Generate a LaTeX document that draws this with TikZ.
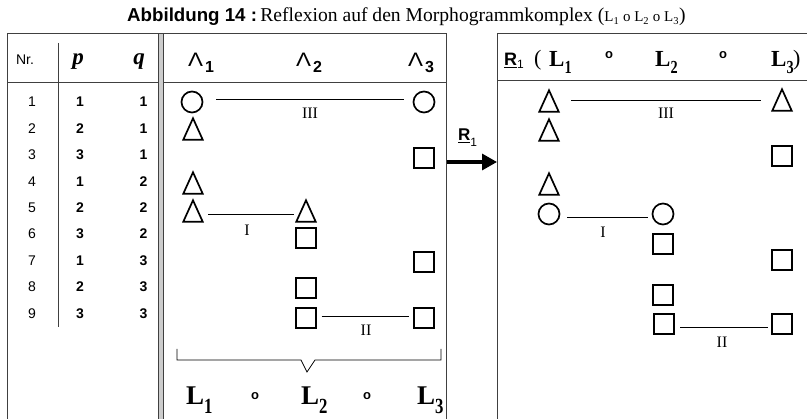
\documentclass[tikz,border=0pt]{standalone}
\usepackage{fontspec}
\usepackage{graphicx}
\setmainfont{Liberation Serif}
\setsansfont{Liberation Sans}
\usetikzlibrary{arrows.meta}
\tikzset{
  frame/.style={draw=black!75, line width=0.9pt},
  shp/.style={draw, line width=1.7pt, inner sep=0pt},
  circ/.style={shp, circle, minimum size=21pt},
  sq/.style={shp, rectangle, minimum size=20pt, line width=2pt},
  tribox/.style={inner sep=0pt, minimum width=19pt, minimum height=21pt},
  triline/.style={line width=1.7pt, line join=miter},
  conn/.style={line width=0.9pt},
  roman/.style={inner sep=0pt, font=\rmfamily\fontsize{16}{16}\selectfont},
  num/.style={inner sep=0pt, font=\sffamily\fontsize{14}{14}\selectfont},
  bnum/.style={inner sep=0pt, font=\sffamily\bfseries\fontsize{14}{14}\selectfont},
  bigL/.style={inner sep=0pt, anchor=base west, font=\rmfamily\bfseries\fontsize{27}{27}\selectfont},
  hdL/.style={inner sep=0pt, anchor=base west, font=\rmfamily\bfseries\fontsize{23}{23}\selectfont},
  ring/.style={inner sep=0pt, font=\sffamily\bfseries\fontsize{13}{13}\selectfont},
  wedge/.style={inner sep=0pt, anchor=base west, font=\sffamily\fontsize{19.5}{20}\selectfont},
}
\newcommand\tri[3]{\node[tribox] (#1) at (#2,#3) {};
  \draw[triline] (#1.south west) -- (#1.south east) -- (#1.north) -- cycle;}
\newcommand\Lsub[1]{L\raisebox{-0.3em}{\scalebox{0.62}[0.8]{#1}}}
\newcommand\wsub[1]{\hspace{2pt}\raisebox{-6pt}{\sffamily\bfseries\fontsize{16}{16}\selectfont #1}}
\newcommand\wg{\scalebox{1.15}[1]{Λ}}
\begin{document}
\begin{tikzpicture}[x=1pt,y=-1pt]
\useasboundingbox (0,0) rectangle (807,419);
% title
\node[inner sep=0pt, anchor=base west] (title) at (127,22) {{\sffamily\bfseries\fontsize{18.7}{20}\selectfont Abbildung 14 :} {\rmfamily\fontsize{19.6}{21}\selectfont Reflexion auf den Morphogrammkomplex ({\fontsize{15}{15}\selectfont L\textsubscript{1} o L\textsubscript{2} o L\textsubscript{3}})}};
% frames
\draw[frame] (7,419) -- (7,33) -- (158.5,33);
\draw[frame] (163,33) -- (446,33) -- (446,419);
\draw[frame, fill=black!20] (158.5,33) rectangle (163,419.5);
\draw[frame] (7,82) -- (158.5,82);
\draw[frame] (163,82) -- (446,82);
\draw[frame] (58,43) -- (58,327);
\draw[frame] (497,419) -- (497,33) -- (807,33);
\draw[frame] (497,80) -- (807,80);
% left header
\node[num, anchor=base] (hnr) at (25,65) {Nr.};
\node[inner sep=0pt, anchor=base, font=\rmfamily\bfseries\itshape\fontsize{23}{23}\selectfont] (hp) at (78,65) {p};
\node[inner sep=0pt, anchor=base, font=\rmfamily\bfseries\itshape\fontsize{23}{23}\selectfont] (hq) at (139,65) {q};
% table rows
\foreach \i/\p/\q in {1/1/1,2/2/1,3/3/1,4/1/2,5/2/2,6/3/2,7/1/3,8/2/3,9/3/3}{
  \pgfmathsetmacro\yy{102+(\i-1)*26.4}
  \node[num] (nr\i) at (32,\yy) {\i};
  \node[bnum] (p\i) at (80,\yy) {\p};
  \node[bnum] (q\i) at (143.5,\yy) {\q};
}
% middle header
\node[wedge] (w1) at (188,67) {\wg\wsub{1}};
\node[wedge] (w2) at (296,67) {\wg\wsub{2}};
\node[wedge] (w3) at (408,67) {\wg\wsub{3}};
% middle shapes
\node[circ] (m1a) at (192,102) {};
\node[circ] (m1c) at (424,102) {};
\tri{m2a}{193}{129}
\node[sq] (m3c) at (424,158) {};
\tri{m4a}{193}{183}
\tri{m5a}{193}{211}
\tri{m5b}{306}{211}
\node[sq] (m6b) at (306,238) {};
\node[sq] (m7c) at (424,262) {};
\node[sq] (m8b) at (306,288) {};
\node[sq] (m9b) at (306,318) {};
\node[sq] (m9c) at (424,318) {};
\draw[conn] ([xshift=13pt,yshift=3pt]m1a.east) -- ([xshift=-9pt,yshift=3pt]m1c.west);
\node[roman] (l3m) at (310,113) {III};
\draw[conn] ([xshift=5.5pt,yshift=-3pt]m5a.east) -- ([xshift=-2.5pt,yshift=-3pt]m5b.west);
\node[roman] (l1m) at (247,230) {I};
\draw[conn] ([xshift=4.5pt,yshift=2pt]m9b.east) -- ([xshift=-4.5pt,yshift=2pt]m9c.west);
\node[roman] (l2m) at (366,330) {II};
% brace
\coordinate (bl) at (177,349);
\coordinate (br) at (441,349);
\draw[line width=0.8pt] (bl) -- (177,360) -- (301,360) -- (307,372) -- (315,360) -- (441,360) -- (br);
% bottom labels
\node[bigL] (L1) at (186,405) {\Lsub{1}};
\node[ring] (o1) at (255,396) {o};
\node[bigL] (L2) at (301,405) {\Lsub{2}};
\node[ring] (o2) at (367,396) {o};
\node[bigL] (L3) at (417,405) {\Lsub{3}};
% arrow
\coordinate (aS) at (447,162);
\coordinate (aE) at (497,162);
\draw[line width=3.2pt, -{Triangle[length=15pt,width=16pt]}] (aS) -- (aE);
\node[inner sep=0pt, anchor=base west, font=\sffamily\bfseries\fontsize{17}{17}\selectfont] (Rlab) at (458,141) {\underline{R}\raisebox{-0.3em}{\mdseries\fontsize{12}{12}\selectfont 1}};
% right header
\node[inner sep=0pt, anchor=base west, font=\sffamily\bfseries\fontsize{18}{18}\selectfont] (Rh) at (504,66) {\underline{R}\raisebox{-0.15em}{\mdseries\fontsize{12}{12}\selectfont 1}};
\node[inner sep=0pt, anchor=base west, font=\rmfamily\fontsize{22}{22}\selectfont] (lp) at (534,66) {(};
\node[hdL] (R1) at (549,67) {\Lsub{1}};
\node[ring] (ro1) at (609,55) {o};
\node[hdL] (R2) at (655,67) {\Lsub{2}};
\node[ring] (ro2) at (723,55) {o};
\node[hdL] (R3) at (771,67) {\Lsub{3}};
\node[inner sep=0pt, anchor=base west, font=\rmfamily\fontsize{22}{22}\selectfont] (rp) at (793,66) {)};
% right shapes
\tri{r1a}{549}{101}
\tri{r1c}{782}{100}
\tri{r2a}{549}{130}
\node[sq] (r3c) at (782,156) {};
\tri{r4a}{549}{184}
\node[circ] (r5a) at (549,214) {};
\node[circ] (r5b) at (663,214) {};
\node[sq] (r6b) at (663,244) {};
\node[sq] (r7c) at (782,260) {};
\node[sq] (r8b) at (663,295) {};
\node[sq] (r9b) at (664,324) {};
\node[sq] (r9c) at (782,324) {};
\draw[conn] ([xshift=12.5pt,yshift=1pt]r1a.east) -- ([xshift=-11.5pt]r1c.west);
\node[roman] (l3r) at (666,113) {III};
\draw[conn] ([xshift=7pt,yshift=-3pt]r5a.east) -- ([xshift=-4pt,yshift=-3pt]r5b.west);
\node[roman] (l1r) at (603,232) {I};
\draw[conn] ([xshift=5pt,yshift=-3pt]r9b.east) -- ([xshift=-3.5pt,yshift=-3pt]r9c.west);
\node[roman] (l2r) at (722,342) {II};
\end{tikzpicture}
\end{document}
